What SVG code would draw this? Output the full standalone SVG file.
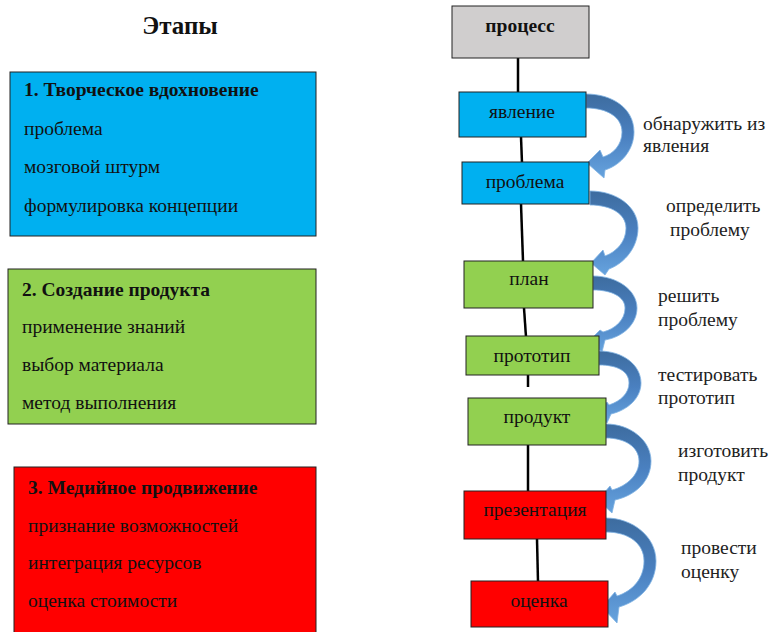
<svg xmlns="http://www.w3.org/2000/svg" width="770" height="632" viewBox="0 0 770 632">
<defs>
<linearGradient id="ag" x1="0" y1="0" x2="0" y2="1">
<stop offset="0" stop-color="#3D6C9F"/>
<stop offset="0.5" stop-color="#4A80C0"/>
<stop offset="1" stop-color="#66A3DE"/>
</linearGradient>
</defs>
<style>
text{font-family:"Liberation Serif","Times New Roman",serif;fill:#111}
.t{font-size:19.5px}
.b{font-size:19.5px;font-weight:bold}
.c{text-anchor:middle}
.box{stroke:#222;stroke-width:1}
.blue{fill:#00B0F0}
.green{fill:#92D050}
.red{fill:#FF0000}
.gray{fill:#D0CECE}
.ln{stroke:#000;stroke-width:2.5;fill:none}
.arr{fill:url(#ag);stroke:#7FB2E3;stroke-width:0.8}
.lbl{font-size:19.5px;fill:#222}
</style>
<rect width="770" height="632" fill="#fff"/>
<text x="180" y="34" class="c" style="font-size:25px;font-weight:bold">Этапы</text>

<g id="stage1">
<rect x="10" y="72" width="306" height="164" class="box blue"/>
<text x="24" y="96" class="b">1. Творческое вдохновение</text>
<text x="24" y="135" class="t">проблема</text>
<text x="24" y="173" class="t">мозговой штурм</text>
<text x="24" y="212" class="t">формулировка концепции</text>
</g>
<g id="stage2">
<rect x="8" y="269" width="308" height="155" class="box green"/>
<text x="22" y="296" class="b">2. Создание продукта</text>
<text x="22" y="333" class="t">применение знаний</text>
<text x="22" y="371" class="t">выбор материала</text>
<text x="22" y="409" class="t">метод выполнения</text>
</g>
<g id="stage3">
<rect x="14" y="467" width="302" height="170" class="box red"/>
<text x="28" y="494" class="b">3. Медийное продвижение</text>
<text x="28" y="532" class="t">признание возможностей</text>
<text x="28" y="569" class="t">интеграция ресурсов</text>
<text x="28" y="607" class="t">оценка стоимости</text>
</g>

<g id="connectors">
<line x1="518" y1="58" x2="518" y2="93" class="ln"/>
<line x1="521" y1="137" x2="522" y2="163" class="ln"/>
<line x1="521" y1="204" x2="523" y2="261" class="ln"/>
<line x1="524" y1="308" x2="526" y2="337" class="ln"/>
<line x1="528" y1="372" x2="528" y2="387" class="ln"/>
<line x1="528" y1="440" x2="528" y2="491" class="ln"/>
<line x1="537" y1="539" x2="538" y2="582" class="ln"/>
<path class="arr" d="M586,94 C612,94 634,108 634,132 C634,150 621,165 605,170 L604,178 L587,163 L600,150 L603,157 C613,154 622,145 622,132 C622,117 607,108 586,108 Z"/>
<path class="arr" d="M590,191 C616,191 638,206 638,228 C638,247 625,263 609,269 L605,275 L591,263 L603,250 L605,256 C616,252 626,242 626,228 C626,214 611,205 590,205 Z"/>
<path class="arr" d="M593,276 C617,276 637,290 637,308 C637,324 623,337 605,340 L602,352 L588,342 L600,330 L603,332 C615,329 625,320 625,308 C625,297 612,290 593,290 Z"/>
<path class="arr" d="M599,351 C623,351 641,365 641,383 C641,398 628,410 611,414 L607,423 L596,413 L607,402 L609,405 C621,401 629,393 629,383 C629,371 617,365 599,365 Z"/>
<path class="arr" d="M606,424 C630,424 651,440 651,461 C651,480 637,495 615,500 L612,513 L598,500 L610,486 L612,490 C627,486 639,475 639,461 C639,447 625,438 606,438 Z"/>
<path class="arr" d="M606,518 C632,518 656,536 656,561 C656,584 640,601 619,607 L617,623 L602,607 L615,592 L617,596 C633,591 644,578 644,561 C644,543 628,532 606,532 Z"/>
</g>

<g id="process">
<rect x="452" y="6" width="137" height="52" class="box gray"/>
<text x="520" y="32" class="b c">процесс</text>
</g>
<g id="n1">
<rect x="459" y="92" width="127" height="45" class="box blue"/>
<text x="522" y="118" class="t c">явление</text>
</g>
<g id="n2">
<rect x="462" y="162" width="127" height="42" class="box blue"/>
<text x="525" y="188" class="t c">проблема</text>
</g>
<g id="n3">
<rect x="464" y="261" width="129" height="47" class="box green"/>
<text x="529" y="285" class="t c">план</text>
</g>
<g id="n4">
<rect x="466" y="336" width="133" height="39" class="box green"/>
<text x="532" y="362" class="t c">прототип</text>
</g>
<g id="n5">
<rect x="468" y="398" width="138" height="47" class="box green"/>
<text x="537" y="423" class="t c">продукт</text>
</g>
<g id="n6">
<rect x="464" y="491" width="142" height="48" class="box red"/>
<text x="535" y="516" class="t c">презентация</text>
</g>
<g id="n7">
<rect x="471" y="581" width="137" height="46" class="box red"/>
<text x="539" y="607" class="t c">оценка</text>
</g>

<g id="labels">
<text x="643" y="130" class="lbl">обнаружить из</text>
<text x="643" y="152" class="lbl">явления</text>
<text x="666" y="212" class="lbl">определить</text>
<text x="670" y="236" class="lbl">проблему</text>
<text x="658" y="302" class="lbl">решить</text>
<text x="658" y="326" class="lbl">проблему</text>
<text x="658" y="381" class="lbl">тестировать</text>
<text x="658" y="404" class="lbl">прототип</text>
<text x="678" y="457" class="lbl">изготовить</text>
<text x="678" y="481" class="lbl">продукт</text>
<text x="681" y="554" class="lbl">провести</text>
<text x="681" y="578" class="lbl">оценку</text>
</g>
</svg>
